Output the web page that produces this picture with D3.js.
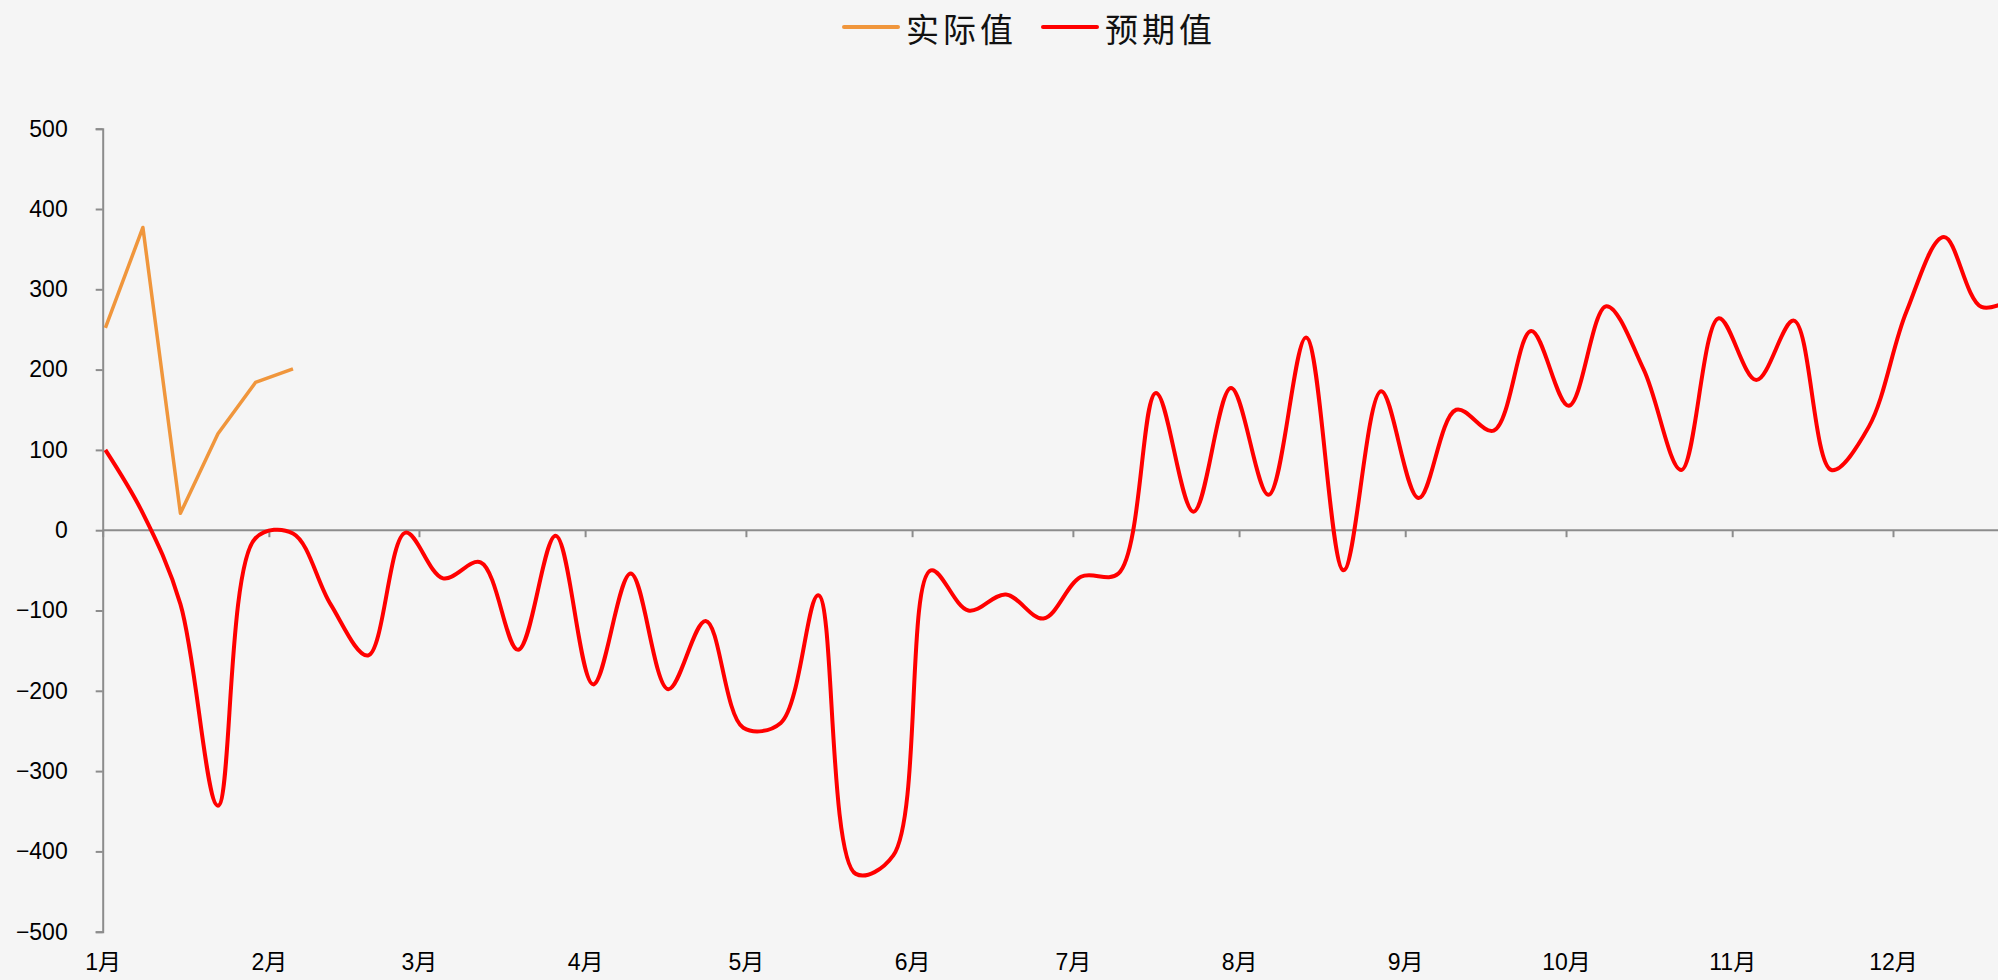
<!DOCTYPE html>
<html>
<head>
<meta charset="utf-8">
<script src="https://cdn.jsdelivr.net/npm/d3@7"></script>
<style>
  html, body { margin: 0; padding: 0; background: #f5f5f5; overflow: hidden; }
  svg { display: block; }
</style>
</head>
<body>
<svg id="chart" width="1998" height="980"></svg>
<script>
// ---- data ----
const weekDates = [
  "2023-01-01","2023-01-08","2023-01-15","2023-01-22","2023-01-29",
  "2023-02-05","2023-02-12","2023-02-19","2023-02-26",
  "2023-03-05","2023-03-12","2023-03-19","2023-03-26",
  "2023-04-02","2023-04-09","2023-04-16","2023-04-23","2023-04-30",
  "2023-05-07","2023-05-14","2023-05-21","2023-05-28",
  "2023-06-04","2023-06-11","2023-06-18","2023-06-25",
  "2023-07-02","2023-07-09","2023-07-16","2023-07-23","2023-07-30",
  "2023-08-06","2023-08-13","2023-08-20","2023-08-27",
  "2023-09-03","2023-09-10","2023-09-17","2023-09-24",
  "2023-10-01","2023-10-08","2023-10-15","2023-10-22","2023-10-29",
  "2023-11-05","2023-11-12","2023-11-19","2023-11-26",
  "2023-12-03","2023-12-10","2023-12-17","2023-12-24"
];
const actualValues = [252, 377, 21, 120, 184, 201];
const expectedValues = [
  100, 21, -92, -343, -10, -4, -92, -156, -3, -60,
  -40, -149, -7, -192, -54, -198, -113, -246, -240, -81,
  -428, -405, -50, -100, -80, -110, -58, -54, 171, 23,
  177, 44, 240, -50, 173, 40, 150, 124, 248, 155,
  279, 200, 75, 264, 187, 261, 75, 129, 272, 365,
  278, 292
];
const monthStarts = ["2023-01-01","2023-02-01","2023-03-01","2023-04-01","2023-05-01","2023-06-01",
                     "2023-07-01","2023-08-01","2023-09-01","2023-10-01","2023-11-01","2023-12-01"];
const monthLabels = ["1月","2月","3月","4月","5月","6月","7月","8月","9月","10月","11月","12月"];
const yTicks = [-500, -400, -300, -200, -100, 0, 100, 200, 300, 400, 500];
const seriesNames = ["实际值", "预期值"];
const seriesColors = ["#F0963C", "#FF0000"];

// ---- chart ----
const parse = d3.utcParse("%Y-%m-%d");
const dates = weekDates.map(parse);
const svg = d3.select("#chart");
const W = 1998, H = 980;

const x = d3.scaleUtc()
  .domain([parse("2023-01-01"), parse("2023-12-01")])
  .range([102.7, 1893]);
const y = d3.scaleLinear().domain([-500, 500]).range([931.7, 128.7]);
const halfDay = (x(parse("2023-01-02")) - x(parse("2023-01-01"))) / 2;

const axisColor = "#8c8c8c";

// y axis
const yAxis = svg.append("g")
  .attr("transform", `translate(${x(parse("2023-01-01"))},0)`)
  .call(d3.axisLeft(y).tickValues(yTicks).tickSize(7).tickPadding(28)
    .tickFormat(d => d3.format("d")(d).replace("-", "−")));
yAxis.select(".domain").attr("stroke", axisColor).attr("stroke-width", 2);
yAxis.selectAll(".tick line").attr("stroke", axisColor).attr("stroke-width", 2);
yAxis.selectAll(".tick text")
  .attr("fill", "#000")
  .style("font-family", "'Liberation Sans', Arial, sans-serif")
  .style("font-size", "23px");

// x axis line at zero with month ticks
const xAxis0 = svg.append("g")
  .attr("transform", `translate(0,${y(0)})`)
  .call(d3.axisBottom(x).tickValues(monthStarts.map(parse)).tickSize(7).tickFormat(""));
xAxis0.select(".domain").remove();
xAxis0.append("line")
  .attr("x1", x(parse("2023-01-01"))).attr("x2", W)
  .attr("y1", 0).attr("y2", 0)
  .attr("stroke", axisColor).attr("stroke-width", 2);
xAxis0.selectAll(".tick line").attr("stroke", axisColor).attr("stroke-width", 2);

// month labels at bottom
const xAxisLab = svg.append("g")
  .attr("transform", `translate(0,${y(-500)})`)
  .call(d3.axisBottom(x).tickValues(monthStarts.map(parse)).tickSize(0).tickPadding(22)
    .tickFormat((d, i) => monthLabels[i]));
xAxisLab.select(".domain").remove();
xAxisLab.selectAll(".tick text")
  .attr("fill", "#000")
  .style("font-family", "'Liberation Sans', 'Noto Sans CJK SC', sans-serif")
  .style("font-size", "23px");

// lines
const lineSmooth = d3.line()
  .x((d, i) => x(dates[i]) + halfDay)
  .y(d => y(d))
  .curve(d3.curveCatmullRom.alpha(0.5));
const lineStraight = d3.line()
  .x((d, i) => x(dates[i]) + halfDay)
  .y(d => y(d));

svg.append("path")
  .datum(expectedValues)
  .attr("d", lineSmooth)
  .attr("fill", "none")
  .attr("stroke", seriesColors[1])
  .attr("stroke-width", 4)
  .attr("stroke-linejoin", "round");

svg.append("path")
  .datum(actualValues)
  .attr("d", lineStraight)
  .attr("fill", "none")
  .attr("stroke", seriesColors[0])
  .attr("stroke-width", 3.5)
  .attr("stroke-linejoin", "round");

// legend
const legendItems = [
  { name: seriesNames[0], color: seriesColors[0], x: 844 },
  { name: seriesNames[1], color: seriesColors[1], x: 1043 }
];
const lg = svg.append("g");
legendItems.forEach(it => {
  lg.append("line")
    .attr("x1", it.x).attr("x2", it.x + 54)
    .attr("y1", 27).attr("y2", 27)
    .attr("stroke", it.color).attr("stroke-width", 4).attr("stroke-linecap", "round");
  lg.append("text")
    .attr("x", it.x + 62).attr("y", 28)
    .attr("dominant-baseline", "central")
    .style("font-family", "'Noto Sans CJK SC', sans-serif")
    .style("font-size", "33px")
    .style("letter-spacing", "4px")
    .attr("fill", "#111")
    .text(it.name);
});
</script>
</body>
</html>
